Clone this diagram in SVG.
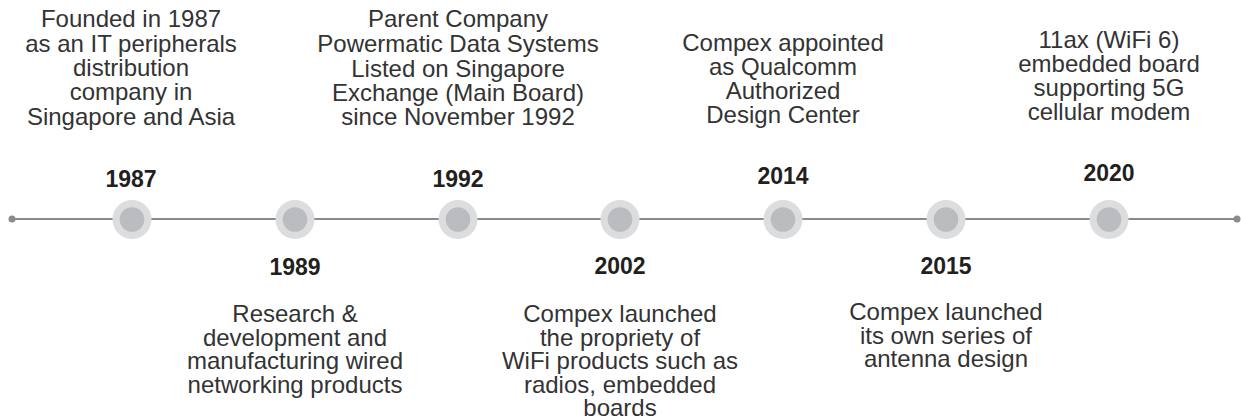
<svg xmlns="http://www.w3.org/2000/svg" width="1241" height="420" viewBox="0 0 1241 420">
<style>
.t{font-family:"Liberation Sans",Arial,sans-serif;font-size:24px;fill:#333333;text-anchor:middle}
.y{font-family:"Liberation Sans",Arial,sans-serif;font-size:23px;font-weight:bold;fill:#231f20;text-anchor:middle}
.o{fill:#dcdddf}
.i{fill:#bbbcbf}
</style>
<rect width="1241" height="420" fill="#ffffff"/>
<g id="connectors">
<line x1="12" y1="219" x2="1237" y2="219" stroke="#8a8a8c" stroke-width="2"/>
<circle cx="12" cy="219" r="3.5" fill="#8a8a8c"/>
<circle cx="1237" cy="219" r="3.5" fill="#8a8a8c"/>
</g>
<g id="n1987">
<circle class="o" cx="132" cy="219.5" r="19.5"/><circle class="i" cx="132" cy="219.5" r="12.3"/>
<text class="y" x="131" y="187">1987</text>
<text class="t" x="131"><tspan x="131" y="27">Founded in 1987</tspan><tspan x="131" y="51.5">as an IT peripherals</tspan><tspan x="131" y="76">distribution</tspan><tspan x="131" y="100">company in</tspan><tspan x="131" y="124.5">Singapore and Asia</tspan></text>
</g>
<g id="n1989">
<circle class="o" cx="295" cy="219.5" r="19.5"/><circle class="i" cx="295" cy="219.5" r="12.3"/>
<text class="y" x="295" y="275">1989</text>
<text class="t"><tspan x="295" y="322">Research &amp;</tspan><tspan x="295" y="345.5">development and</tspan><tspan x="295" y="369">manufacturing wired</tspan><tspan x="295" y="392.5">networking products</tspan></text>
</g>
<g id="n1992">
<circle class="o" cx="458" cy="219.5" r="19.5"/><circle class="i" cx="458" cy="219.5" r="12.3"/>
<text class="y" x="458" y="187">1992</text>
<text class="t"><tspan x="458" y="27">Parent Company</tspan><tspan x="458" y="52">Powermatic Data Systems</tspan><tspan x="458" y="77">Listed on Singapore</tspan><tspan x="458" y="101">Exchange (Main Board)</tspan><tspan x="458" y="125">since November 1992</tspan></text>
</g>
<g id="n2002">
<circle class="o" cx="620" cy="219.5" r="19.5"/><circle class="i" cx="620" cy="219.5" r="12.3"/>
<text class="y" x="620" y="274">2002</text>
<text class="t"><tspan x="620" y="322">Compex launched</tspan><tspan x="620" y="345.5">the propriety of</tspan><tspan x="620" y="369">WiFi products such as</tspan><tspan x="620" y="392.5">radios, embedded</tspan><tspan x="620" y="416">boards</tspan></text>
</g>
<g id="n2014">
<circle class="o" cx="783" cy="219.5" r="19.5"/><circle class="i" cx="783" cy="219.5" r="12.3"/>
<text class="y" x="783" y="184">2014</text>
<text class="t"><tspan x="783" y="51">Compex appointed</tspan><tspan x="783" y="75">as Qualcomm</tspan><tspan x="783" y="99">Authorized</tspan><tspan x="783" y="123">Design Center</tspan></text>
</g>
<g id="n2015">
<circle class="o" cx="946" cy="219.5" r="19.5"/><circle class="i" cx="946" cy="219.5" r="12.3"/>
<text class="y" x="946" y="274">2015</text>
<text class="t"><tspan x="946" y="320">Compex launched</tspan><tspan x="946" y="343.5">its own series of</tspan><tspan x="946" y="367">antenna design</tspan></text>
</g>
<g id="n2020">
<circle class="o" cx="1109" cy="219.5" r="19.5"/><circle class="i" cx="1109" cy="219.5" r="12.3"/>
<text class="y" x="1109" y="181">2020</text>
<text class="t"><tspan x="1109" y="48">11ax (WiFi 6)</tspan><tspan x="1109" y="72">embedded board</tspan><tspan x="1109" y="96">supporting 5G</tspan><tspan x="1109" y="120">cellular modem</tspan></text>
</g>
</svg>
